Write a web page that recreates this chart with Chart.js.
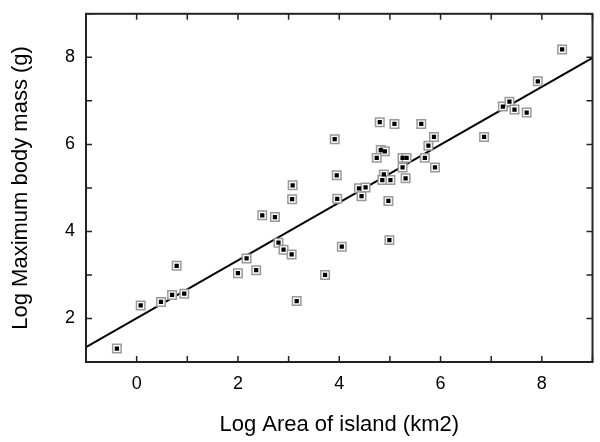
<!DOCTYPE html>
<html>
<head>
<meta charset="UTF-8" />
<script src="https://cdn.jsdelivr.net/npm/chart.js"></script>
<style>
  body { margin: 0; background: #fff; }
  #wrap { width: 600px; height: 442px; }
</style>
</head>
<body>
<div id="wrap"><canvas id="c"></canvas></div>
<script>
const areaX = [-0.39,0.08,0.48,0.70,0.79,0.94,2.00,2.17,2.36,2.48,2.73,2.80,2.90,3.07,3.08,3.06,3.16,3.72,3.91,3.95,3.96,4.05,
  4.39,4.44,4.52,4.80,4.82,4.90,4.74,4.88,4.85,5.01,4.97,4.99,5.09,5.25,5.33,5.25,5.31,5.62,5.69,5.76,5.87,5.89,6.86,7.23,7.36,7.46,7.70,7.92,8.40];
const massY = [1.31,2.30,2.38,2.54,3.21,2.57,3.04,3.38,3.11,4.37,4.33,3.74,3.58,4.74,5.06,3.47,2.40,3.00,6.12,5.29,4.75,3.65,
  4.99,4.81,5.01,6.51,5.87,5.84,5.69,5.31,5.18,5.18,4.70,3.80,6.47,5.69,5.69,5.47,5.22,6.47,5.69,5.97,6.17,5.47,6.17,6.87,6.98,6.80,6.73,7.45,8.18];
const fitX = [-1, 9];
const fitY = [1.34, 7.99];

const pts = areaX.map((x, i) => ({ x, y: massY[i] }));
const fit = fitX.map((x, i) => ({ x, y: fitY[i] }));

// inward major ticks on all four sides, like the original plot frame
const frameTicks = {
  id: 'frameTicks',
  afterDraw(chart) {
    const { ctx, chartArea: a, scales: { x, y } } = chart;
    ctx.save();
    ctx.strokeStyle = '#222';
    ctx.lineWidth = 1.5;
    ctx.beginPath();
    for (let v = -1; v <= 9; v++) {
      const px = x.getPixelForValue(v);
      ctx.moveTo(px, a.bottom); ctx.lineTo(px, a.bottom - 6);
      ctx.moveTo(px, a.top); ctx.lineTo(px, a.top + 6);
    }
    for (let v = 1; v <= 9; v++) {
      const py = y.getPixelForValue(v);
      ctx.moveTo(a.left, py); ctx.lineTo(a.left + 6, py);
      ctx.moveTo(a.right, py); ctx.lineTo(a.right - 6, py);
    }
    ctx.stroke();
    ctx.lineWidth = 2;
    ctx.strokeRect(a.left, a.top, a.right - a.left, a.bottom - a.top);
    ctx.restore();
  }
};

new Chart(document.getElementById('c'), {
  type: 'scatter',
  data: {
    datasets: [
      { type: 'line', data: fit, borderColor: '#000', borderWidth: 2, pointRadius: 0, order: 3 },
      { data: pts, pointStyle: 'rect', pointRadius: 6, backgroundColor: '#fff', borderColor: '#999', borderWidth: 1.5, order: 2 },
      { data: pts, pointStyle: 'rect', pointRadius: 3, backgroundColor: '#000', borderColor: '#000', borderWidth: 0, order: 1 }
    ]
  },
  options: {
    responsive: true,
    maintainAspectRatio: false,
    animation: false,
    layout: { padding: { top: -5, right: 5, left: 4 } },
    plugins: { legend: { display: false }, tooltip: { enabled: false } },
    scales: {
      x: {
        type: 'linear', min: -1, max: 9,
        grid: { display: false }, border: { display: false },
        ticks: { stepSize: 1, color: '#000', font: { family: 'Arial, Liberation Sans', size: 18 },
          callback: v => (v % 2 === 0 ? v : '') },
        title: { display: true, text: 'Log Area of island (km2)', color: '#000',
          font: { family: 'Arial, Liberation Sans', size: 22 }, padding: { top: 6 } },
        afterFit: s => { s.height = 80; }
      },
      y: {
        min: 1, max: 9,
        grid: { display: false }, border: { display: false },
        ticks: { stepSize: 1, color: '#000', font: { family: 'Arial, Liberation Sans', size: 18 },
          callback: v => (v % 2 === 0 ? v : '') },
        title: { display: true, text: 'Log Maximum body mass (g)', color: '#000',
          font: { family: 'Arial, Liberation Sans', size: 22 } },
        afterFit: s => { s.width = 82; }
      }
    }
  },
  plugins: [frameTicks]
});
</script>
</body>
</html>
